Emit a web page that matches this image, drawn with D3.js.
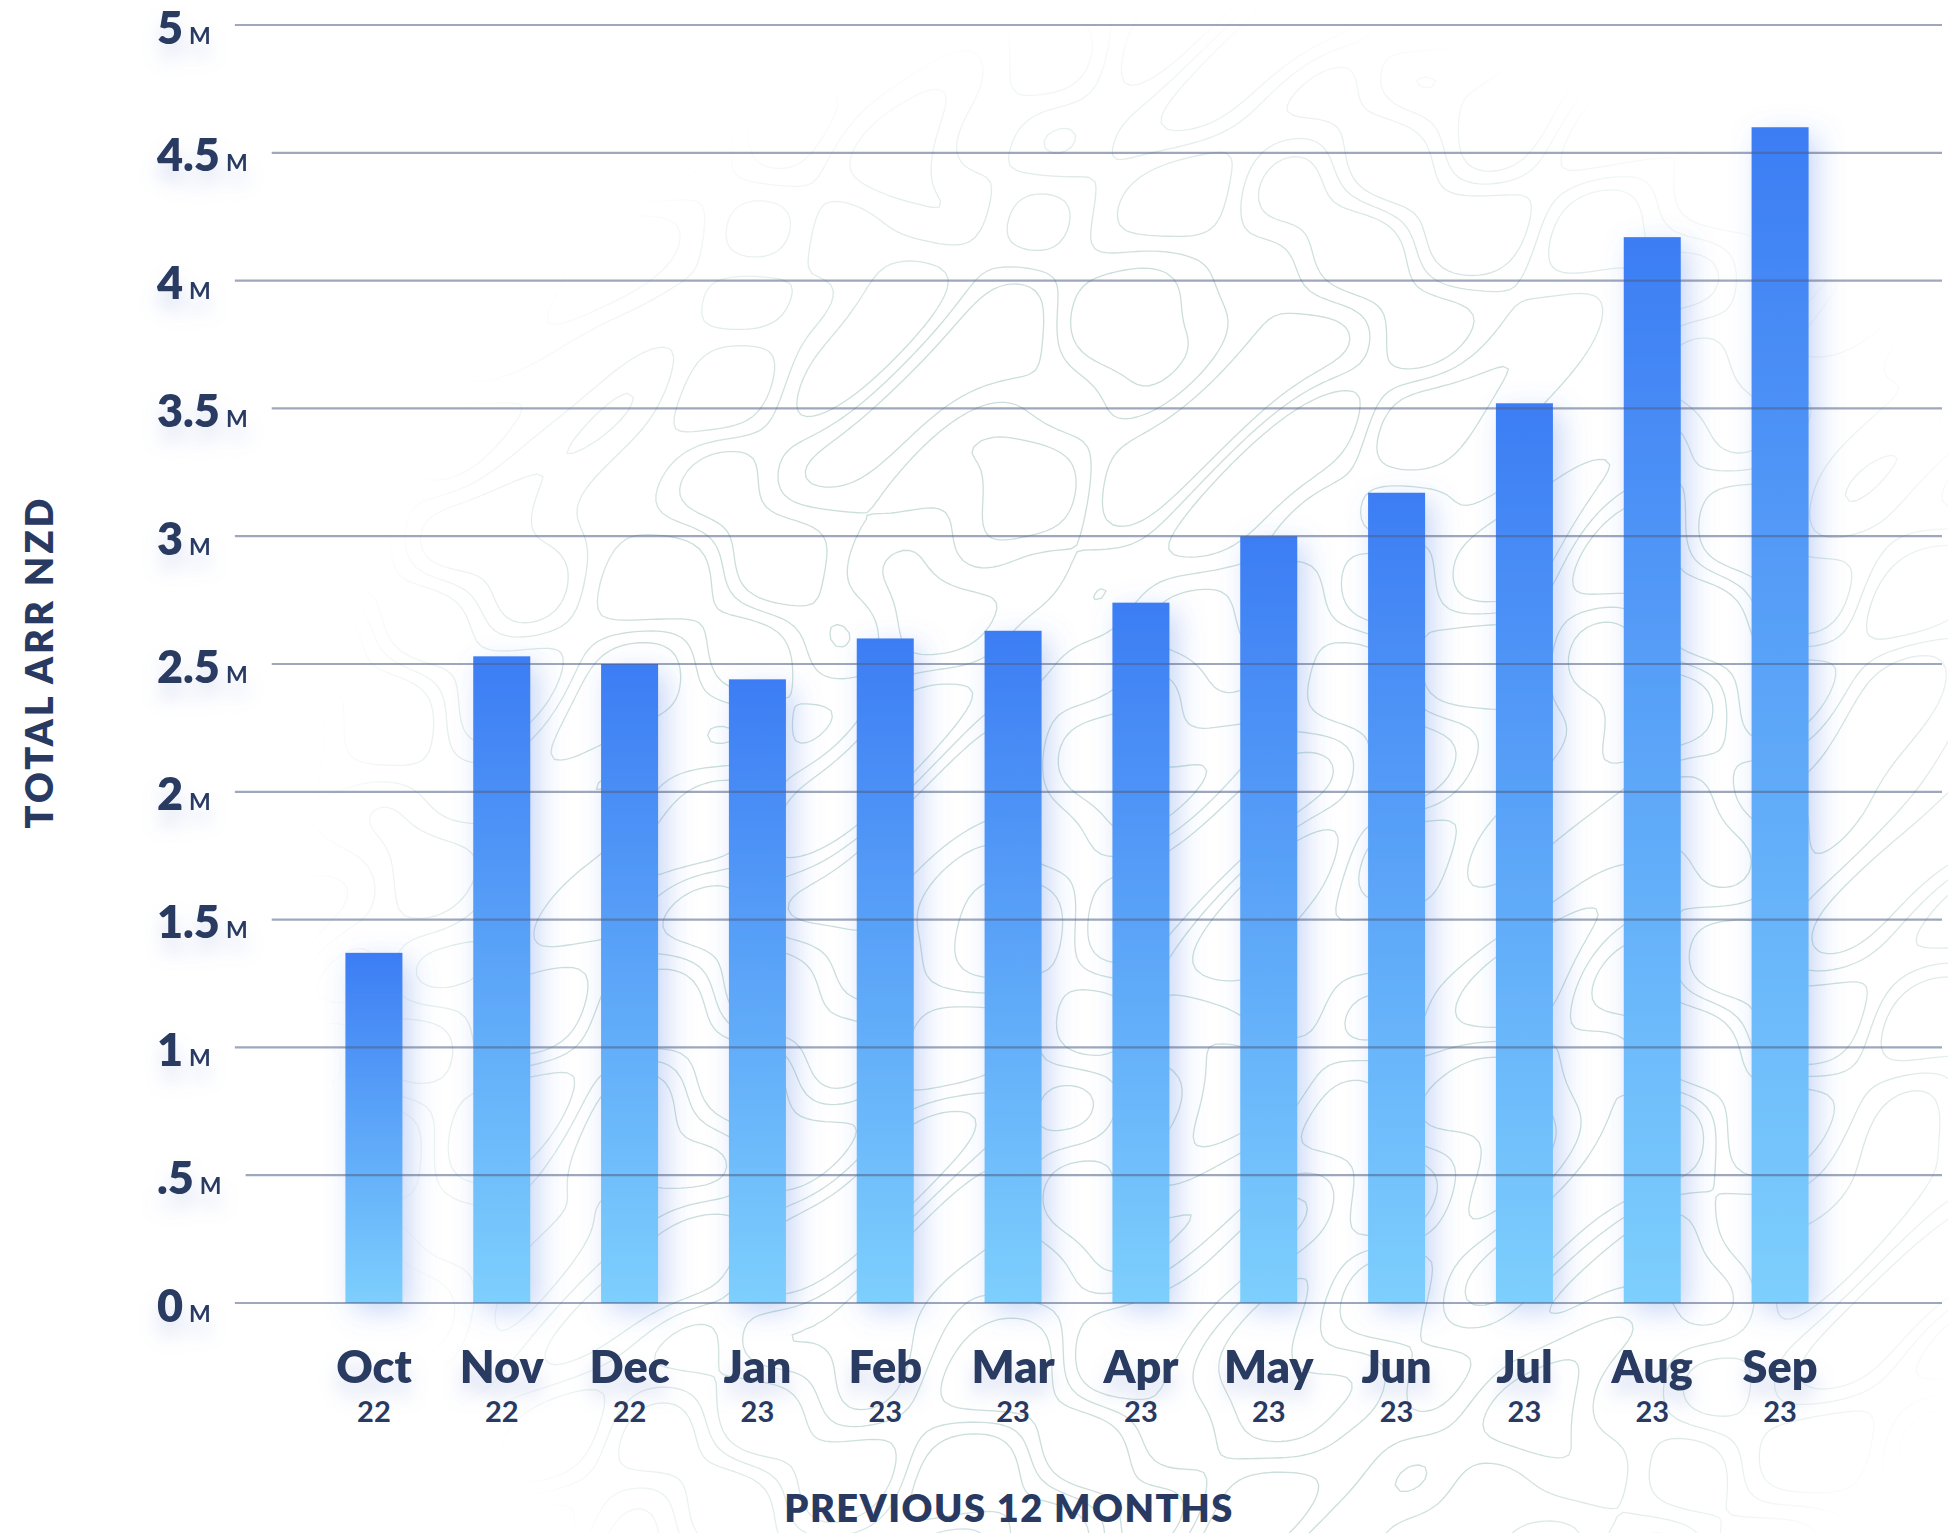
<!DOCTYPE html>
<html>
<head>
<meta charset="utf-8">
<script src="https://cdn.jsdelivr.net/npm/d3@7"></script>
<style>
body{margin:0;background:#fff;}
svg{display:block;font-family:Lato,'Noto Sans',sans-serif;}
</style>
</head>
<body>
<svg width="1948" height="1533"></svg>
<script>
const months = ['Oct','Nov','Dec','Jan','Feb','Mar','Apr','May','Jun','Jul','Aug','Sep'];
const years = ['22','22','22','23','23','23','23','23','23','23','23','23'];
const arrValues = [1.37, 2.53, 2.50, 2.44, 2.60, 2.63, 2.74, 3.00, 3.17, 3.52, 4.17, 4.60];
const yTicks = [0, 0.5, 1, 1.5, 2, 2.5, 3, 3.5, 4, 4.5, 5];
const yTickLabels = ['0', '.5', '1', '1.5', '2', '2.5', '3', '3.5', '4', '4.5', '5'];

function whenLoaded(){

    const svg = d3.select('svg');
    const width = +svg.attr('width');
    const height = +svg.attr('height');

    const textColor = '#293a62';
    const labelLeft = 157;
    const gridRight = 1942;

    const yScale = d3.scaleLinear()
        .domain([0, 5])
        .range([1303, 25]);

    const xScale = d3.scaleBand()
        .domain(months)
        .range([310, 1844])
        .paddingInner(0.554)
        .paddingOuter(0.277);

    const defs = svg.append('defs');

    const grad = defs.append('linearGradient')
        .attr('id', 'barGrad')
        .attr('x1', 0).attr('y1', 0).attr('x2', 0).attr('y2', 1);
    grad.append('stop').attr('offset', '0%').attr('stop-color', '#3c7df4');
    grad.append('stop').attr('offset', '100%').attr('stop-color', '#7dcffd');

    defs.append('filter')
        .attr('id', 'barGlow')
        .attr('x', '-80%').attr('y', '-20%').attr('width', '260%').attr('height', '140%')
        .append('feDropShadow')
        .attr('dx', 8).attr('dy', 8).attr('stdDeviation', 14)
        .attr('flood-color', '#4a7be6').attr('flood-opacity', 0.3);

    defs.append('filter')
        .attr('id', 'textGlow')
        .attr('x', '-30%').attr('y', '-30%').attr('width', '160%').attr('height', '200%')
        .append('feDropShadow')
        .attr('dx', 0).attr('dy', 14).attr('stdDeviation', 9)
        .attr('flood-color', '#8097d4').attr('flood-opacity', 0.3);

    // faint topographic decoration behind the chart
    const radial = defs.append('radialGradient')
        .attr('id', 'fade')
        .attr('gradientUnits', 'userSpaceOnUse')
        .attr('cx', 1200).attr('cy', 900).attr('r', 900);
    radial.append('stop').attr('offset', '0%').attr('stop-color', '#fff');
    radial.append('stop').attr('offset', '70%').attr('stop-color', '#fff');
    radial.append('stop').attr('offset', '100%').attr('stop-color', '#000');
    defs.append('mask').attr('id', 'topoMask')
        .append('rect')
        .attr('width', width).attr('height', height)
        .attr('fill', 'url(#fade)');

    svg.append('rect')
        .attr('width', width).attr('height', height)
        .attr('fill', '#fff');

    const cell = 6;
    const nx = Math.ceil(width / cell) + 1;
    const ny = Math.ceil(height / cell) + 1;
    const field = new Array(nx * ny);
    for (let j = 0; j < ny; j++) {
        for (let i = 0; i < nx; i++) {
            const px = i * cell, py = j * cell;
            field[j * nx + i] = Math.sin(px / 40 + 1.8 * Math.sin(py / 66))
                + Math.sin(py / 36 + 1.6 * Math.cos(px / 52))
                + 0.6 * Math.sin((px + 1.3 * py) / 29);
        }
    }
    const contours = d3.contours().size([nx, ny]).thresholds([-0.9, 0, 0.9])(field);
    const topoPath = d3.geoPath(d3.geoIdentity().scale(cell));

    svg.append('g')
        .attr('mask', 'url(#topoMask)')
        .selectAll('path')
        .data(contours)
        .enter()
        .append('path')
        .attr('d', topoPath)
        .attr('fill', 'none')
        .attr('stroke', '#b9d3cf')
        .attr('stroke-width', 1.3)
        .attr('stroke-opacity', 0.75);

    const barLayer = svg.append('g');
    const gridLayer = svg.append('g');
    const labelLayer = svg.append('g');

    // bars
    barLayer.selectAll('rect').data(arrValues)
        .enter()
        .append('rect')
        .attr('x', (d, i) => xScale(months[i]))
        .attr('y', d => yScale(d))
        .attr('width', xScale.bandwidth())
        .attr('height', d => yScale(0) - yScale(d))
        .attr('fill', 'url(#barGrad)')
        .attr('filter', 'url(#barGlow)');

    // y axis labels
    const yAxis = d3.axisLeft(yScale)
        .tickValues(yTicks)
        .tickFormat((d, i) => yTickLabels[i])
        .tickSize(0);

    const yAxisG = labelLayer.append('g').call(yAxis);
    yAxisG.select('.domain').remove();
    yAxisG.attr('text-anchor', 'start')
        .attr('font-family', null)
        .attr('font-size', null);

    yAxisG.selectAll('.tick text')
        .attr('x', labelLeft)
        .attr('dy', 18)
        .attr('fill', textColor)
        .attr('font-size', 45)
        .attr('font-weight', 800)
        .attr('filter', 'url(#textGlow)')
        .append('tspan')
        .attr('dx', 6)
        .attr('font-size', 23)
        .attr('font-weight', 700)
        .text('M');

    const labelEnds = [];
    yAxisG.selectAll('.tick text').each(function(){
        const b = this.getBBox();
        labelEnds.push(b.x + b.width);
    });

    // gridlines
    gridLayer.selectAll('line').data(yTicks)
        .enter()
        .append('line')
        .attr('x1', (d, i) => labelEnds[i] + 24)
        .attr('x2', gridRight)
        .attr('y1', d => yScale(d))
        .attr('y2', d => yScale(d))
        .attr('stroke', '#4f5f85')
        .attr('stroke-opacity', 0.55)
        .attr('stroke-width', 2.2);

    // x axis labels
    const xAxis = d3.axisBottom(xScale).tickSize(0);
    const xAxisG = labelLayer.append('g')
        .call(xAxis)
        .attr('transform', `translate(0,${yScale(0)})`)
        .attr('font-family', null)
        .attr('font-size', null);
    xAxisG.select('.domain').remove();

    xAxisG.selectAll('.tick text')
        .attr('y', 80)
        .attr('dy', 0)
        .attr('fill', textColor)
        .attr('font-size', 45)
        .attr('font-weight', 800)
        .attr('filter', 'url(#textGlow)');

    xAxisG.selectAll('.tick')
        .append('text')
        .attr('y', 119)
        .attr('fill', textColor)
        .attr('font-size', 29)
        .attr('font-weight', 700)
        .text((d, i) => years[i]);

    // axis titles
    labelLayer.append('text')
        .attr('transform', 'translate(53,662) rotate(-90)')
        .attr('text-anchor', 'middle')
        .attr('fill', textColor)
        .attr('font-size', 38)
        .attr('font-weight', 800)
        .attr('letter-spacing', 3)
        .text('TOTAL ARR NZD');

    labelLayer.append('text')
        .attr('x', 1009)
        .attr('y', 1522)
        .attr('text-anchor', 'middle')
        .attr('fill', textColor)
        .attr('font-size', 38)
        .attr('font-weight', 800)
        .attr('letter-spacing', 1.5)
        .text('PREVIOUS 12 MONTHS');
}

window.onload = whenLoaded;
</script>
</body>
</html>
